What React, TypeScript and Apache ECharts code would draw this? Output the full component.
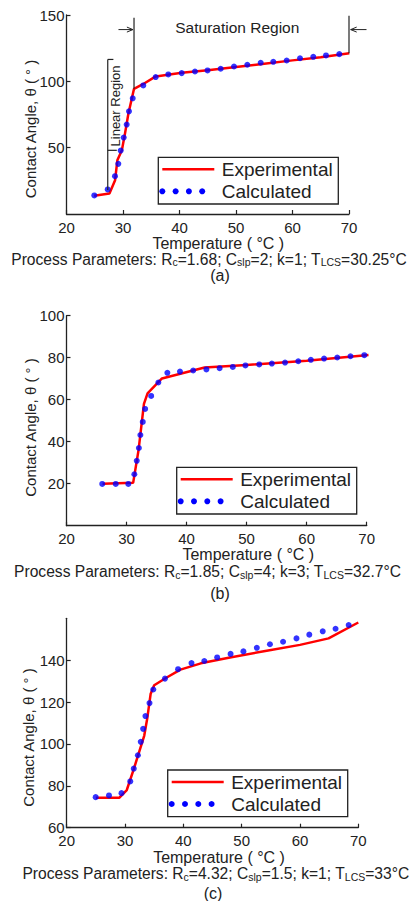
import React, { useEffect, useRef } from 'react';
import * as echarts from 'echarts';

// ---------- data ----------
const xTicks = [20, 30, 40, 50, 60, 70];

// Panel (a)
const aExpT = [24.9, 27.6, 28.6, 29.0, 29.8, 30.35, 30.95, 31.95, 33.6, 35.8, 40.4, 45, 50, 55, 60, 65, 70.05];
const aExpTheta = [13.8, 15.5, 25.5, 40.5, 48, 60.6, 75.6, 94.4, 98, 103.7, 106.5, 108.3, 110.8, 113.3, 115.8, 118.2, 121.2];
const aCalcT = [24.92, 27.29, 28.58, 29.17, 29.59, 30.12, 30.65, 31.06, 31.72, 33.59, 35.79, 38.02, 40.39, 42.74, 44.96, 47.29, 49.65, 52.0, 54.37, 56.6, 58.97, 61.33, 63.68, 65.93, 68.28];
const aCalcTheta = [14.0, 18.5, 28.5, 37.8, 47.8, 57.6, 67.4, 77.4, 87.2, 96.9, 103.2, 105.2, 106.2, 107.4, 108.2, 109.5, 111.2, 112.5, 114.0, 114.7, 115.7, 117.4, 118.5, 119.5, 120.5];
const aYLabels = [50, 100, 150];

// Panel (b)
const bExpT = [26, 31.1, 32.0, 32.9, 33.5, 35.9, 43, 50, 60, 70.3];
const bExpTheta = [20.0, 20.4, 36, 58, 63, 70.1, 75.3, 76.5, 78.6, 81.3];
const bCalcT = [25.95, 28.2, 30.3, 31.3, 31.7, 32.05, 32.3, 32.7, 33.1, 34.1, 35.3, 36.8, 38.9, 41.1, 43.3, 45.5, 47.7, 49.8, 52.1, 54.2, 56.4, 58.6, 60.7, 62.9, 65.1, 67.3, 69.6];
const bCalcTheta = [19.9, 19.9, 19.9, 24.5, 30.9, 37.0, 43.2, 49.4, 55.6, 61.8, 68.2, 72.8, 73.4, 73.9, 74.4, 75.0, 75.6, 76.3, 76.8, 77.2, 77.7, 78.3, 79.0, 79.6, 80.1, 80.7, 81.2];
const bYLabels = [20, 40, 60, 80, 100];

// Panel (c)
const cExpT = [25, 29, 30.3, 31.5, 33.3, 33.8, 34.4, 35, 37, 39.5, 43, 48, 54.3, 60, 64.9, 70];
const cExpTheta = [74.3, 74.3, 78, 88, 104, 112, 124, 128, 131.5, 135.5, 138.5, 141.3, 144.5, 147.3, 150.4, 158];
const cCalcT = [24.97, 27.25, 29.4, 30.9, 31.5, 32.2, 32.7, 33.1, 33.5, 34.2, 34.85, 36.85, 39.1, 41.4, 43.6, 45.8, 48.1, 50.3, 52.6, 54.85, 57.1, 59.4, 61.6, 63.9, 66.1, 68.35];
const cCalcTheta = [74.6, 75.4, 76.5, 82.1, 88.2, 94.6, 101, 107.2, 113.3, 119.5, 126, 131.2, 135.7, 138.6, 139.6, 141.3, 143, 144.2, 145.9, 147.6, 148.8, 150.4, 152.2, 153.8, 155, 156.8];
const cYLabels = [60, 80, 100, 120, 140];

const seriesNames = ['Experimental', 'Calculated'];
const captions = [
  'Process Parameters: R{s|c}=1.68; C{s|slp}=2; k=1; T{s|LCS}=30.25°C',
  'Process Parameters: R{s|c}=1.85; C{s|slp}=4; k=3; T{s|LCS}=32.7°C',
  'Process Parameters: R{s|c}=4.32; C{s|slp}=1.5; k=1; T{s|LCS}=33°C',
];
const panelTags = ['(a)', '(b)', '(c)'];
const yName = 'Contact Angle, θ ( ° )';
const xName = 'Temperature ( °C )';

const zip = (a: number[], b: number[]) => a.map((v, i) => [v, b[i]]);

export default function App() {
  const ref = useRef<HTMLDivElement>(null);
  useEffect(() => {
    const chart = echarts.init(ref.current!, null, { renderer: 'svg', width: 414, height: 901 });
    const font = '"Liberation Sans", Arial, Helvetica, sans-serif';
    const ink = '#222';
    const grids = [
      { left: 66.5, top: 15, width: 282.5, height: 199 },
      { left: 66.5, top: 315.7, width: 300.2, height: 210 },
      { left: 66.7, top: 618.3, width: 291.6, height: 209.4 },
    ];
    const yCfg = [
      { min: 0, max: 150, interval: 50, labels: aYLabels },
      { min: 0, max: 100, interval: 20, labels: bYLabels },
      { min: 60, max: 160, interval: 20, labels: cYLabels },
    ];
    const exp = [zip(aExpT, aExpTheta), zip(bExpT, bExpTheta), zip(cExpT, cExpTheta)];
    const calc = [zip(aCalcT, aCalcTheta), zip(bCalcT, bCalcTheta), zip(cCalcT, cCalcTheta)];

    const series: any[] = [];
    for (let i = 0; i < 3; i++) {
      series.push({
        name: seriesNames[0], type: 'line', xAxisIndex: i, yAxisIndex: i, data: exp[i],
        symbol: 'none', lineStyle: { color: '#ff0000', width: 2.5 }, z: 2, clip: false,
      });
      series.push({
        name: seriesNames[1], type: 'scatter', xAxisIndex: i, yAxisIndex: i, data: calc[i],
        symbolSize: 6, itemStyle: { color: '#0000ff' }, z: 3, clip: false,
      });
    }

    chart.setOption({
      animation: false,
      backgroundColor: '#ffffff',
      grid: grids.map((g) => ({ ...g, containLabel: false, outerBoundsMode: 'none' })),
      xAxis: grids.map((_, i) => ({
        type: 'value', gridIndex: i, min: 20, max: 70, interval: 10,
        axisLine: { show: true, onZero: false, lineStyle: { color: ink, width: 1.3 } },
        axisTick: { show: true, inside: true, length: 4, lineStyle: { color: ink, width: 1.2 } },
        axisLabel: {
          color: ink, fontSize: 15, lineHeight: 14, fontFamily: font, margin: 6,
          formatter: (v: number) => (xTicks.includes(v) ? String(v) : ''),
        },
        splitLine: { show: false },
      })),
      yAxis: yCfg.map((c, i) => ({
        type: 'value', gridIndex: i, min: c.min, max: c.max, interval: c.interval,
        axisLine: { show: true, onZero: false, lineStyle: { color: ink, width: 1.3 } },
        axisTick: { show: true, inside: true, length: 4, customValues: c.labels, lineStyle: { color: ink, width: 1.2 } },
        axisLabel: {
          color: ink, fontSize: 15, lineHeight: 14, fontFamily: font, margin: 2,
          formatter: (v: number) => (c.labels.includes(v) ? String(v) : ''),
        },
        splitLine: { show: false },
      })),
      series,
    });

    const px = (g: number, t: number, v: number) => chart.convertToPixel({ gridIndex: g } as any, [t, v]) as number[];
    const graphics: any[] = [];
    const line = (p1: number[], p2: number[], w = 1.2) =>
      graphics.push({ type: 'line', shape: { x1: p1[0], y1: p1[1], x2: p2[0], y2: p2[1] }, style: { stroke: ink, lineWidth: w }, z: 10 });
    const text = (x: number, y: number, str: string, size: number, rot = 0, extra: any = {}) =>
      graphics.push({
        type: 'text', x, y, rotation: rot, z: 10,
        style: { text: str, fontSize: size, lineHeight: size, fontFamily: font, fill: ink, align: 'center', verticalAlign: 'middle', ...extra },
      });

    // Panel (a) annotations
    line(px(0, 31.95, 94.4), px(0, 31.95, 148));
    line(px(0, 70, 121.2), px(0, 70, 149.5));
    const la1 = px(0, 29.2, 139), la2 = px(0, 31.75, 139);
    line(la1, la2, 1);
    graphics.push({ type: 'polyline', shape: { points: [[la2[0] - 6, la2[1] - 2.5], la2, [la2[0] - 6, la2[1] + 2.5]] }, style: { stroke: ink, lineWidth: 1, fill: null }, z: 10 });
    const ra1 = px(0, 73.1, 139), ra2 = px(0, 70.3, 139);
    line(ra1, ra2, 1);
    graphics.push({ type: 'polyline', shape: { points: [[ra2[0] + 6, ra2[1] - 2.5], ra2, [ra2[0] + 6, ra2[1] + 2.5]] }, style: { stroke: ink, lineWidth: 1, fill: null }, z: 10 });
    line(px(0, 27.3, 18), px(0, 27.3, 116.5));
    line(px(0, 27.3, 116.5), px(0, 28.3, 116.5));
    line(px(0, 27.3, 48), px(0, 28.9, 48));
    text(237.3, 27.5, 'Saturation Region', 15.5);
    text(115, 106, 'Linear Region', 13, Math.PI / 2);

    // axis names, captions, tags
    const yNamePos = [[30, 129], [30, 427.5], [28.3, 737.5]];
    const xNamePos = [[218.3, 243.5], [248.3, 554.5], [219, 857]];
    const capPos = [[209, 259], [207.5, 571.5], [215.8, 873.5]];
    const tagPos = [[220, 275], [220, 593.5], [213, 893.5]];
    for (let i = 0; i < 3; i++) {
      text(yNamePos[i][0], yNamePos[i][1], yName, 15, Math.PI / 2);
      text(xNamePos[i][0], xNamePos[i][1], xName, 16);
      text(capPos[i][0], capPos[i][1], captions[i], 15.6, 0, {
        lineHeight: 17,
        rich: { s: { fontSize: 10.5, fontFamily: font, fill: ink, verticalAlign: 'bottom' } },
      });
      text(tagPos[i][0], tagPos[i][1], panelTags[i], 16);
    }

    // legends
    const legendPos = [[158.3, 157.3], [176.7, 467.3], [167.7, 770]];
    for (const [L, T] of legendPos) {
      graphics.push({ type: 'rect', shape: { x: L, y: T, width: 180, height: 46.7 }, style: { fill: '#fff', stroke: ink, lineWidth: 1.3 }, z: 10 });
      graphics.push({ type: 'line', shape: { x1: L + 4, y1: T + 12, x2: L + 56, y2: T + 12 }, style: { stroke: '#ff0000', lineWidth: 2.5 }, z: 11 });
      for (let k = 0; k < 4; k++) {
        graphics.push({ type: 'circle', shape: { cx: L + 4 + k * 13.3, cy: T + 34, r: 3 }, style: { fill: '#0000ff' }, z: 11 });
      }
      graphics.push({ type: 'text', x: L + 63.5, y: T + 12.5, z: 11, style: { text: seriesNames[0], fontSize: 19, lineHeight: 19, fontFamily: font, fill: ink, align: 'left', verticalAlign: 'middle' } });
      graphics.push({ type: 'text', x: L + 63.5, y: T + 34.5, z: 11, style: { text: seriesNames[1], fontSize: 19, lineHeight: 19, fontFamily: font, fill: ink, align: 'left', verticalAlign: 'middle' } });
    }

    chart.setOption({ graphic: graphics });
    return () => chart.dispose();
  }, []);

  return <div ref={ref} style={{ position: 'absolute', left: 0, top: 0, width: 414, height: 901, background: '#fff' }} />;
}
